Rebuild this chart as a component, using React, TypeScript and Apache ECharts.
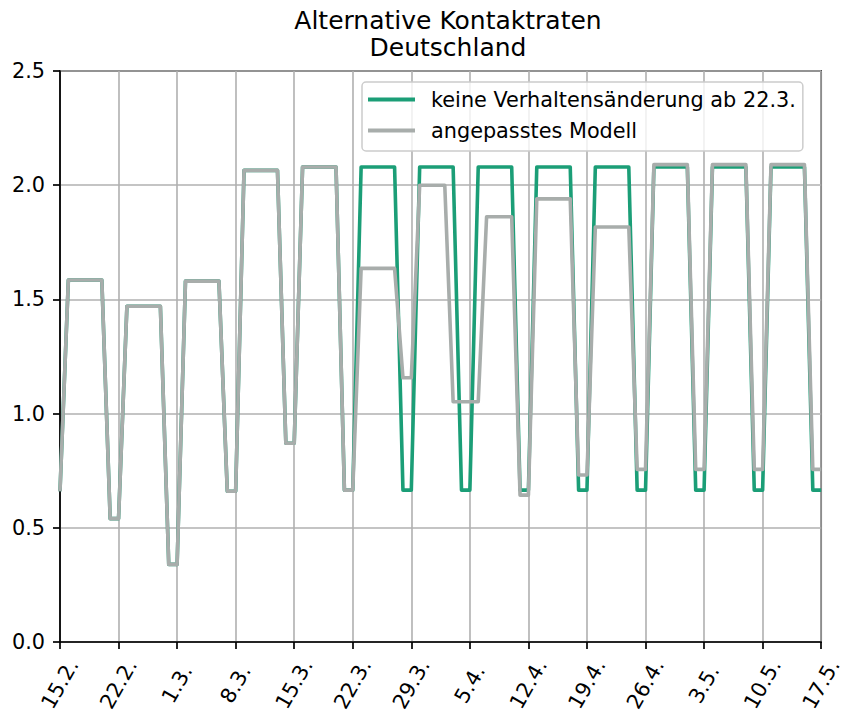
import React, { useEffect, useRef } from "react";
import * as echarts from "echarts";

const dateLabels = ["15.2.", "22.2.", "1.3.", "8.3.", "15.3.", "22.3.", "29.3.", "5.4.", "12.4.", "19.4.", "26.4.", "3.5.", "10.5.", "17.5."];

// daily values, day 0 = 15.2.
const keineAenderung = [
  0.66,
  1.585, 1.585, 1.585, 1.585, 1.585, 0.54, 0.54,
  1.47, 1.47, 1.47, 1.47, 1.47, 0.34, 0.34,
  1.58, 1.58, 1.58, 1.58, 1.58, 0.66, 0.66,
  2.065, 2.065, 2.065, 2.065, 2.065, 0.87, 0.87,
  2.08, 2.08, 2.08, 2.08, 2.08, 0.665, 0.665,
  2.08, 2.08, 2.08, 2.08, 2.08, 0.665, 0.665,
  2.08, 2.08, 2.08, 2.08, 2.08, 0.665, 0.665,
  2.08, 2.08, 2.08, 2.08, 2.08, 0.665, 0.665,
  2.08, 2.08, 2.08, 2.08, 2.08, 0.665, 0.665,
  2.08, 2.08, 2.08, 2.08, 2.08, 0.665, 0.665,
  2.08, 2.08, 2.08, 2.08, 2.08, 0.665, 0.665,
  2.08, 2.08, 2.08, 2.08, 2.08, 0.665, 0.665,
  2.08, 2.08, 2.08, 2.08, 2.08, 0.665, 0.665,
];

const angepasst = [
  0.66,
  1.585, 1.585, 1.585, 1.585, 1.585, 0.54, 0.54,
  1.47, 1.47, 1.47, 1.47, 1.47, 0.34, 0.34,
  1.58, 1.58, 1.58, 1.58, 1.58, 0.66, 0.66,
  2.065, 2.065, 2.065, 2.065, 2.065, 0.87, 0.87,
  2.08, 2.08, 2.08, 2.08, 2.08, 0.665, 0.665,
  1.636, 1.636, 1.636, 1.636, 1.636, 1.157, 1.157,
  2.0, 2.0, 2.0, 2.0, 1.052, 1.052, 1.052,
  1.052, 1.862, 1.862, 1.862, 1.862, 0.643, 0.643,
  1.94, 1.94, 1.94, 1.94, 1.94, 0.731, 0.731,
  1.817, 1.817, 1.817, 1.817, 1.817, 0.756, 0.756,
  2.09, 2.09, 2.09, 2.09, 2.09, 0.756, 0.756,
  2.09, 2.09, 2.09, 2.09, 2.09, 0.756, 0.756,
  2.09, 2.09, 2.09, 2.09, 2.09, 0.756, 0.756,
];

const seriesNames = ["keine Verhaltensänderung ab 22.3.", "angepasstes Modell"];
const FONT = "DejaVu Sans";

export default function App() {
  const ref = useRef<HTMLDivElement>(null);
  useEffect(() => {
    if (!ref.current) return;
    const chart = echarts.init(ref.current, null, { renderer: "svg" });
    const toPairs = (arr: number[]) => arr.map((v, i) => [i, v]);
    chart.setOption({
      animation: false,
      backgroundColor: "#ffffff",
      title: {
        text: "Alternative Kontaktraten\nDeutschland",
        left: 443,
        top: 2,
        textAlign: "center",
        textStyle: { fontFamily: FONT, fontSize: 25, fontWeight: "normal", color: "#000", lineHeight: 27 },
      },
      grid: {
        left: 60, right: 19, top: 71, bottom: 73,
        show: true, borderColor: "#000", borderWidth: 1.7, backgroundColor: "transparent",
      },
      legend: {
        orient: "vertical",
        left: 362,
        top: 82,
        padding: [5, 7, 8, 6],
        itemGap: 6,
        itemWidth: 47,
        itemHeight: 4,
        icon: "rect",
        borderColor: "#cccccc",
        borderWidth: 1.5,
        borderRadius: 4,
        backgroundColor: "rgba(255,255,255,0.8)",
        textStyle: { fontFamily: FONT, fontSize: 20.8, color: "#000", lineHeight: 25, padding: [0, 0, 0, 11] },
        data: seriesNames,
      },
      xAxis: {
        type: "value",
        min: 0,
        max: 91,
        interval: 7,
        axisLine: { lineStyle: { color: "#000", width: 1.7 } },
        axisTick: { length: 7, lineStyle: { color: "#000", width: 1.7 } },
        splitLine: { show: true, lineStyle: { color: "#b0b0b0", width: 1.6 } },
        axisLabel: {
          rotate: 60,
          align: "center",
          verticalAlign: "middle",
          margin: 42,
          fontFamily: FONT,
          fontSize: 20.8,
          color: "#000",
          formatter: (v: number) => dateLabels[Math.round(v / 7)] ?? "",
        },
      },
      yAxis: {
        type: "value",
        min: 0,
        max: 2.5,
        interval: 0.5,
        axisLine: { show: true, lineStyle: { color: "#000", width: 1.7 } },
        axisTick: { show: true, length: 7, lineStyle: { color: "#000", width: 1.7 } },
        splitLine: { show: true, lineStyle: { color: "#b0b0b0", width: 1.6 } },
        axisLabel: {
          margin: 15,
          fontFamily: FONT,
          fontSize: 20.8,
          color: "#000",
          formatter: (v: number) => v.toFixed(1),
        },
      },
      series: [
        {
          name: seriesNames[0],
          type: "line",
          data: toPairs(keineAenderung),
          showSymbol: false,
          symbol: "none",
          lineStyle: { color: "#1b9e77", width: 3.6, join: "round" },
          itemStyle: { color: "#1b9e77" },
        },
        {
          name: seriesNames[1],
          type: "line",
          data: toPairs(angepasst),
          showSymbol: false,
          symbol: "none",
          lineStyle: { color: "#a8adab", width: 3.6, join: "round" },
          itemStyle: { color: "#a8adab" },
        },
      ],
    });
    return () => chart.dispose();
  }, []);
  return <div ref={ref} style={{ position: "fixed", left: 0, top: 0, width: 845, height: 715 }} />;
}
